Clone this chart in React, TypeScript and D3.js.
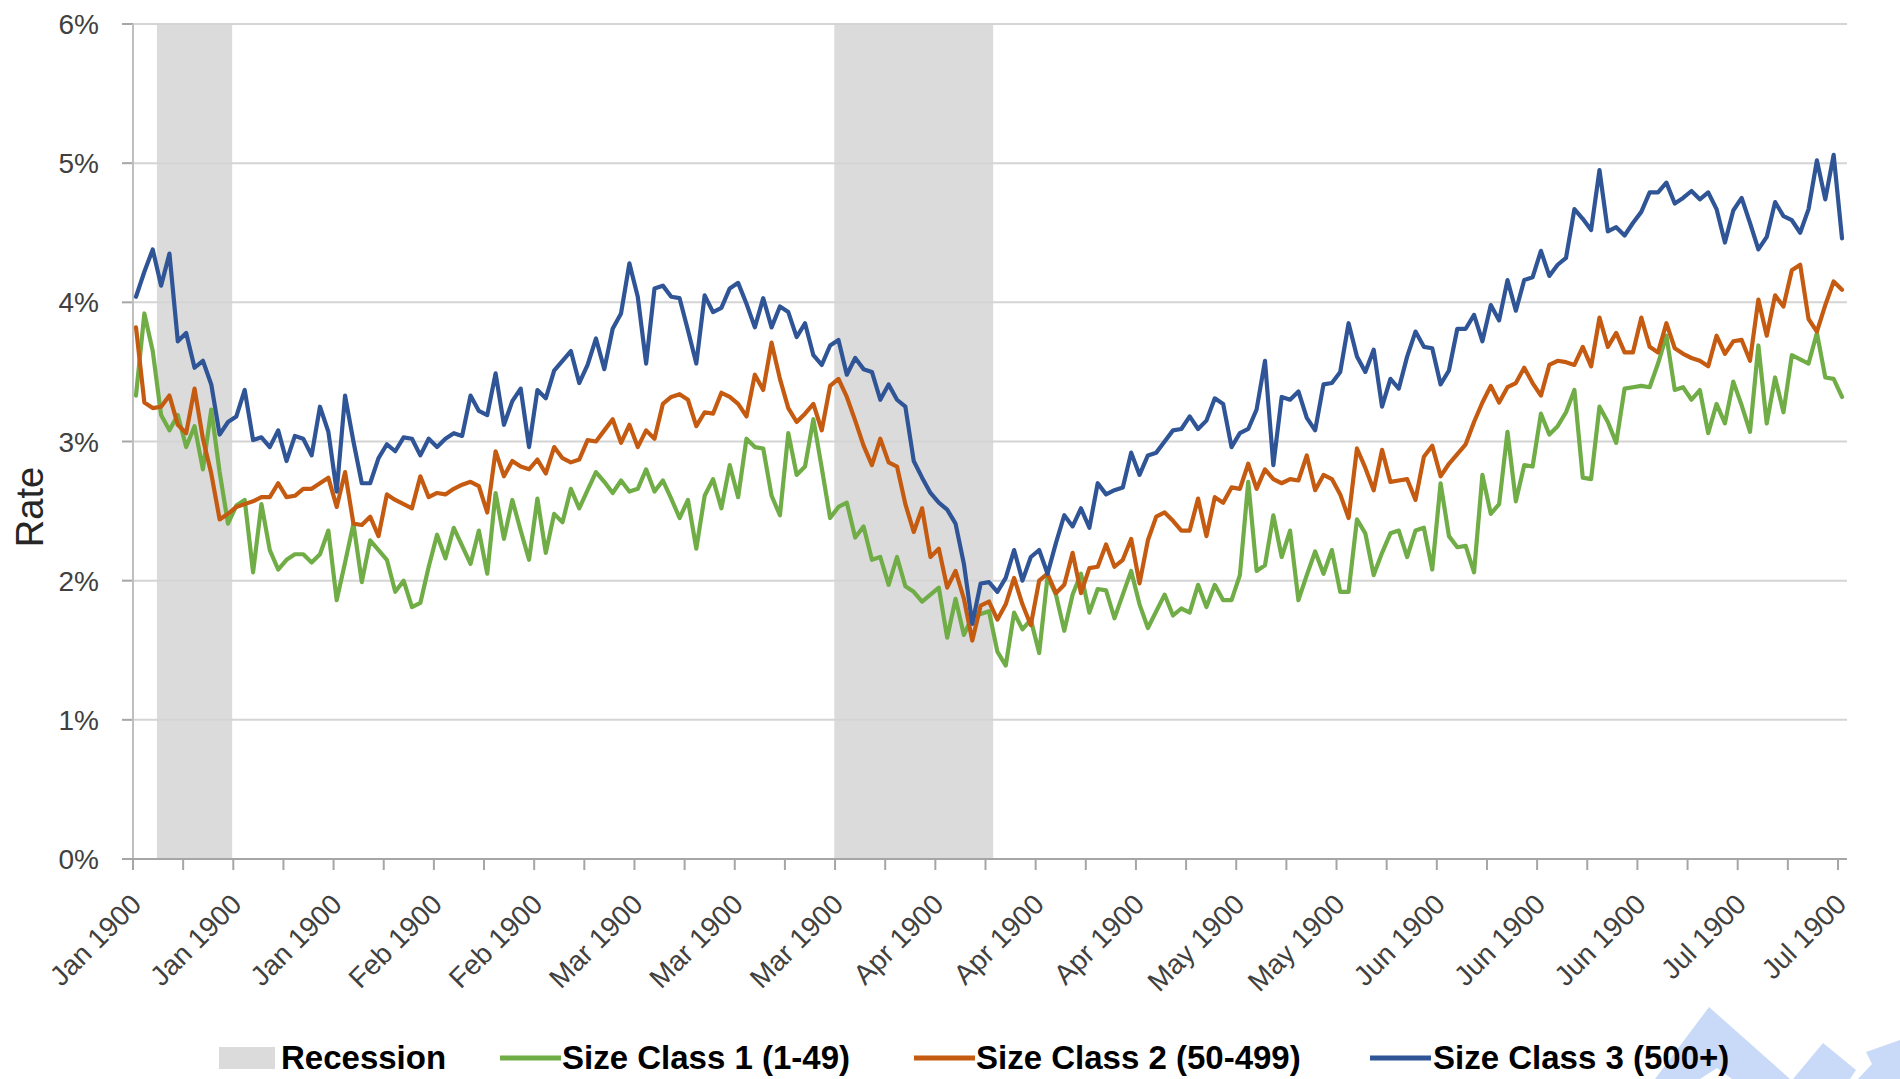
import React from 'react';
import * as d3 from 'd3';

const size1 = [
  3.33, 3.92, 3.65, 3.19, 3.08, 3.19, 2.96, 3.11, 2.8, 3.23, 2.78, 2.41, 2.54, 2.58, 2.06, 2.55, 2.22, 2.08, 2.15, 2.19,
  2.19, 2.13, 2.19, 2.36, 1.86, 2.13, 2.41, 1.99, 2.29, 2.22, 2.15, 1.92, 2.0, 1.81, 1.84, 2.1, 2.33, 2.16, 2.38, 2.25,
  2.12, 2.36, 2.05, 2.63, 2.3, 2.58, 2.36, 2.15, 2.59, 2.2, 2.48, 2.42, 2.66, 2.52, 2.65, 2.78, 2.71, 2.63, 2.72, 2.64,
  2.66, 2.8, 2.64, 2.72, 2.59, 2.45, 2.58, 2.23, 2.61, 2.73, 2.52, 2.83, 2.6, 3.02, 2.96, 2.95, 2.61, 2.47, 3.06, 2.76,
  2.82, 3.16, 2.81, 2.45, 2.53, 2.56, 2.31, 2.39, 2.15, 2.17, 1.97, 2.17, 1.96, 1.92, 1.85, 1.9, 1.95, 1.59, 1.87, 1.61,
  1.74, 1.76, 1.78, 1.49, 1.39, 1.77, 1.65, 1.72, 1.48, 2.03, 1.9, 1.64, 1.9, 2.05, 1.77, 1.94, 1.93, 1.73, 1.9, 2.07,
  1.83, 1.66, 1.78, 1.9, 1.75, 1.8, 1.77, 1.97, 1.81, 1.97, 1.86, 1.86, 2.04, 2.71, 2.07, 2.11, 2.47, 2.17, 2.36, 1.86,
  2.04, 2.21, 2.05, 2.22, 1.92, 1.92, 2.44, 2.34, 2.04, 2.2, 2.34, 2.36, 2.17, 2.36, 2.38, 2.08, 2.7, 2.32, 2.24, 2.25,
  2.06, 2.76, 2.48, 2.55, 3.07, 2.57, 2.83, 2.82, 3.2, 3.05, 3.11, 3.21, 3.37, 2.74, 2.73, 3.25, 3.14, 2.99, 3.38, 3.39,
  3.4, 3.39, 3.56, 3.76, 3.37, 3.39, 3.3, 3.37, 3.06, 3.27, 3.13, 3.43, 3.26, 3.07, 3.69, 3.13, 3.46, 3.21, 3.62, 3.59,
  3.56, 3.78, 3.46, 3.45, 3.32,
];

const size2 = [
  3.82, 3.28, 3.24, 3.25, 3.33, 3.12, 3.06, 3.38, 3.02, 2.77, 2.44, 2.48, 2.53, 2.55, 2.57, 2.6, 2.6, 2.7, 2.6, 2.61,
  2.66, 2.66, 2.7, 2.74, 2.53, 2.78, 2.41, 2.4, 2.46, 2.32, 2.62, 2.58, 2.55, 2.52, 2.75, 2.6, 2.63, 2.62, 2.66, 2.69,
  2.71, 2.68, 2.49, 2.93, 2.75, 2.86, 2.82, 2.8, 2.87, 2.77, 2.96, 2.88, 2.85, 2.87, 3.01, 3.0, 3.08, 3.16, 2.99, 3.12,
  2.96, 3.08, 3.02, 3.27, 3.32, 3.34, 3.3, 3.11, 3.21, 3.2, 3.35, 3.32, 3.27, 3.18, 3.48, 3.37, 3.71, 3.45, 3.24, 3.14,
  3.2, 3.27, 3.08, 3.4, 3.45, 3.32, 3.15, 2.97, 2.83, 3.02, 2.85, 2.82, 2.55, 2.35, 2.52, 2.17, 2.23, 1.95, 2.07, 1.87,
  1.57, 1.82, 1.85, 1.72, 1.83, 2.02, 1.83, 1.68, 2.0, 2.05, 1.91, 1.97, 2.2, 1.91, 2.09, 2.1, 2.26, 2.1, 2.15, 2.3,
  1.98, 2.29, 2.46, 2.49, 2.43, 2.36, 2.36, 2.59, 2.32, 2.6, 2.56, 2.67, 2.66, 2.84, 2.66, 2.8, 2.73, 2.7, 2.73, 2.72,
  2.9, 2.65, 2.76, 2.73, 2.62, 2.45, 2.95, 2.81, 2.65, 2.94, 2.71, 2.72, 2.73, 2.58, 2.89, 2.97, 2.75, 2.84, 2.91, 2.98,
  3.14, 3.28, 3.4, 3.28, 3.39, 3.42, 3.53, 3.42, 3.33, 3.55, 3.58, 3.57, 3.55, 3.68, 3.54, 3.89, 3.68, 3.78, 3.64, 3.64,
  3.89, 3.68, 3.64, 3.85, 3.67, 3.63, 3.6, 3.58, 3.54, 3.76, 3.63, 3.72, 3.73, 3.58, 4.02, 3.76, 4.05, 3.97, 4.23, 4.27,
  3.88, 3.79, 3.98, 4.15, 4.09,
];

const size3 = [
  4.04, 4.22, 4.38, 4.12, 4.35, 3.72, 3.78, 3.53, 3.58, 3.41, 3.05, 3.14, 3.18, 3.37, 3.01, 3.03, 2.96, 3.08, 2.86, 3.04,
  3.02, 2.9, 3.25, 3.07, 2.64, 3.33, 3.0, 2.7, 2.7, 2.88, 2.98, 2.93, 3.03, 3.02, 2.9, 3.02, 2.96, 3.02, 3.06, 3.04,
  3.33, 3.22, 3.19, 3.49, 3.12, 3.29, 3.38, 2.96, 3.37, 3.31, 3.51, 3.58, 3.65, 3.42, 3.55, 3.74, 3.52, 3.81, 3.92, 4.28,
  4.04, 3.56, 4.1, 4.12, 4.04, 4.03, 3.8, 3.56, 4.05, 3.93, 3.96, 4.1, 4.14, 3.99, 3.82, 4.03, 3.82, 3.97, 3.93, 3.75,
  3.85, 3.62, 3.55, 3.69, 3.73, 3.48, 3.6, 3.52, 3.5, 3.3, 3.41, 3.3, 3.25, 2.86, 2.74, 2.63, 2.56, 2.51, 2.41, 2.12,
  1.69, 1.98, 1.99, 1.92, 2.02, 2.22, 2.0, 2.17, 2.22, 2.05, 2.27, 2.47, 2.39, 2.52, 2.38, 2.7, 2.62, 2.65, 2.67, 2.92,
  2.76, 2.9, 2.92, 3.0, 3.08, 3.09, 3.18, 3.09, 3.15, 3.31, 3.27, 2.96, 3.06, 3.09, 3.23, 3.58, 2.83, 3.32, 3.3, 3.36,
  3.17, 3.08, 3.41, 3.42, 3.5, 3.85, 3.61, 3.5, 3.66, 3.25, 3.45, 3.38, 3.61, 3.79, 3.68, 3.67, 3.41, 3.51, 3.81, 3.81,
  3.91, 3.72, 3.98, 3.87, 4.16, 3.94, 4.16, 4.18, 4.37, 4.19, 4.27, 4.32, 4.67, 4.6, 4.52, 4.95, 4.51, 4.54, 4.48, 4.57,
  4.65, 4.79, 4.79, 4.86, 4.71, 4.75, 4.8, 4.74, 4.79, 4.67, 4.43, 4.66, 4.75, 4.57, 4.38, 4.47, 4.72, 4.62, 4.59, 4.5,
  4.67, 5.02, 4.74, 5.06, 4.46,
];

const recessionStart = [3, 84];
const recessionEnd = [11, 102];

const yTickValues = [0, 1, 2, 3, 4, 5, 6];
const xTickLabels = [
  'Jan 1900', 'Jan 1900', 'Jan 1900', 'Feb 1900', 'Feb 1900', 'Mar 1900', 'Mar 1900', 'Mar 1900', 'Apr 1900',
  'Apr 1900', 'Apr 1900', 'May 1900', 'May 1900', 'Jun 1900', 'Jun 1900', 'Jun 1900', 'Jul 1900', 'Jul 1900',
];
const seriesNames = ['Size Class 1 (1-49)', 'Size Class 2 (50-499)', 'Size Class 3 (500+)'];
const seriesColors = ['#70AD47', '#C55A11', '#2F5597'];
const recessionLabel = 'Recession';
const yAxisTitle = 'Rate';

const FONT = '"Liberation Sans", Arial, sans-serif';

export default function App() {
  const n = size1.length;
  const x = d3.scaleLinear().domain([0, n - 1]).range([136, 1842]);
  const xTick = d3.scaleLinear().domain([0, n - 1]).range([133, 1838]);
  const y = d3.scaleLinear().domain([0, 6]).range([859, 24]);
  const line = d3
    .line<number>()
    .x((_, i) => x(i))
    .y((d) => y(d));

  const ticks = d3.range(0, n, 6);
  const labelTicks = d3.range(0, n, 12);
  const series = [size1, size2, size3];

  const legendItems = [
    { lx: 500, tx: 562 },
    { lx: 914, tx: 976 },
    { lx: 1370, tx: 1433 },
  ];

  return (
    <svg
      width={1900}
      height={1079}
      style={{ position: 'absolute', left: 0, top: 0, background: '#fff' }}
      fontFamily={FONT}
    >
      <rect x={0} y={0} width={1900} height={1079} fill="#fff" />
      {recessionStart.map((s, k) => (
        <rect
          key={'r' + k}
          x={x(s - 0.5)}
          y={y(6)}
          width={x(recessionEnd[k] + 0.5) - x(s - 0.5)}
          height={y(0) - y(6)}
          fill="#DBDBDB"
        />
      ))}
      {yTickValues.map((t) => (
        <g key={'g' + t}>
          {t > 0 && (
            <line x1={133} x2={1847} y1={y(t)} y2={y(t)} stroke="#D4D4D4" strokeWidth={2} />
          )}
          <line x1={122} x2={133} y1={y(t)} y2={y(t)} stroke="#A6A6A6" strokeWidth={2} />
          <text
            x={99}
            y={y(t)}
            dy="0.36em"
            textAnchor="end"
            fontSize={28}
            fill="#404040"
          >
            {t + '%'}
          </text>
        </g>
      ))}
      <line x1={133} x2={133} y1={y(6)} y2={y(0)} stroke="#BFBFBF" strokeWidth={2} />
      <line x1={122} x2={1847} y1={y(0)} y2={y(0)} stroke="#A6A6A6" strokeWidth={2} />
      {ticks.map((t) => (
        <line key={'t' + t} x1={xTick(t)} x2={xTick(t)} y1={y(0)} y2={y(0) + 11} stroke="#A6A6A6" strokeWidth={2} />
      ))}
      {labelTicks.map((t, k) => (
        <text
          key={'l' + t}
          transform={`translate(${xTick(t) + 10},${906}) rotate(-45)`}
          textAnchor="end"
          fontSize={28}
          fill="#404040"
        >
          {xTickLabels[k]}
        </text>
      ))}
      {series.map((s, k) => (
        <path
          key={'s' + k}
          d={line(s) || ''}
          fill="none"
          stroke={seriesColors[k]}
          strokeWidth={4.2}
          strokeLinejoin="round"
          strokeLinecap="round"
        />
      ))}
      <text
        transform="translate(43,507) rotate(-90)"
        textAnchor="middle"
        fontSize={38}
        fill="#262626"
      >
        {yAxisTitle}
      </text>
      {/* watermark shapes */}
      <g fill="#C9DAF8">
        <polygon points="1709,1007 1655,1079 1700,1079 1717,1068 1732,1079 1790,1079" />
        <polygon points="1823,1043 1793,1079 1850,1079 1856,1070" />
        <polygon points="1866,1052 1900,1040 1900,1079 1858,1079 1872,1064" />
      </g>
      <rect x={219} y={1047} width={56} height={22} fill="#DBDBDB" />
      <text x={281} y={1069} fontSize={33} fontWeight="bold" fill="#000">
        {recessionLabel}
      </text>
      {legendItems.map((it, k) => (
        <g key={'lg' + k}>
          <line x1={it.lx} x2={it.lx + 61} y1={1058} y2={1058} stroke={seriesColors[k]} strokeWidth={5} />
          <text x={it.tx} y={1069} fontSize={33} fontWeight="bold" fill="#000">
            {seriesNames[k]}
          </text>
        </g>
      ))}
    </svg>
  );
}
